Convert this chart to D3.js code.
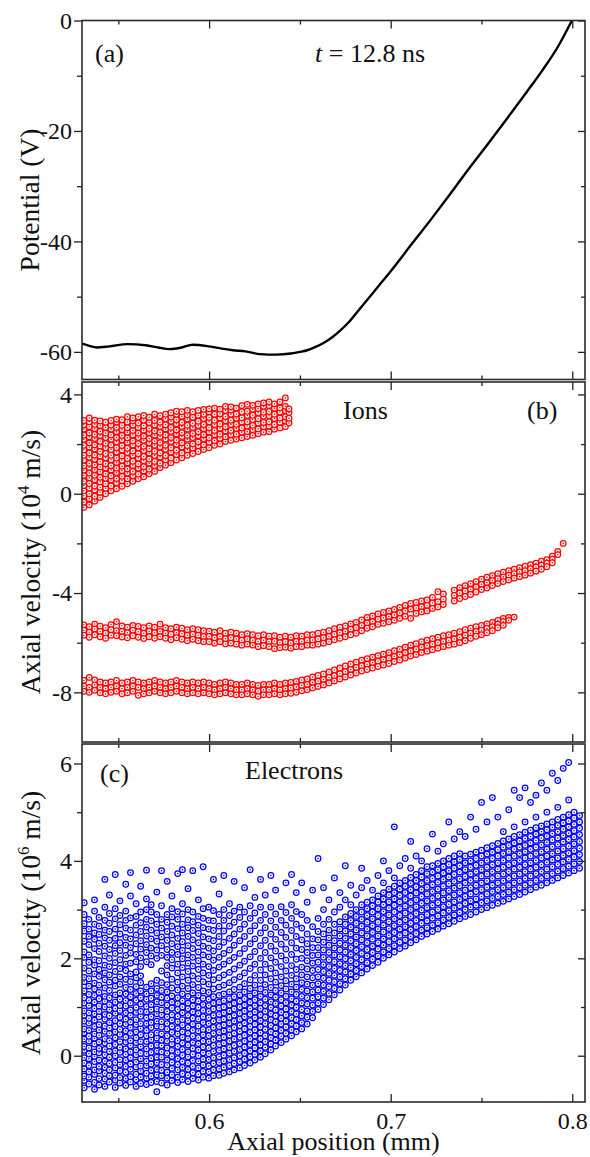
<!DOCTYPE html>
<html><head><meta charset="utf-8">
<script src="https://cdn.jsdelivr.net/npm/d3@7"></script>
<style>
body{margin:0;background:#fff}
svg{display:block}
text{font-family:"Liberation Serif","Times New Roman",serif;fill:#111}
</style>
</head><body>
<svg id="chart" width="590" height="1157" font-family="Liberation Serif, serif"></svg>
<script>
// ---------------- DATA ----------------
const xDomain=[0.53,0.807];
const xMajor=[0.6,0.7,0.8];
const xMinor=[0.55,0.65,0.75];

// (a) potential profile
const potX=[0.530,0.534,0.538,0.545,0.555,0.565,0.572,0.578,0.585,0.591,0.600,0.607,0.613,0.620,0.628,0.637,0.645,0.650,0.654,0.658,0.663,0.668,0.672,0.677,0.681,0.687,0.693,0.700,0.712,0.722,0.731,0.742,0.753,0.764,0.775,0.784,0.792,0.7998];
const potV=[-58.5,-58.9,-59.2,-59.0,-58.6,-58.8,-59.2,-59.5,-59.2,-58.7,-59.0,-59.4,-59.7,-59.9,-60.4,-60.5,-60.3,-60.0,-59.7,-59.2,-58.4,-57.3,-56.2,-54.6,-53.0,-50.6,-48.2,-45.4,-40.3,-36.1,-32.2,-27.3,-22.6,-17.8,-12.9,-8.8,-4.8,0];

// (b) ions: each row = [axial position, velocities...]
const ionCloud=[
[0.531,-0.55,-0.34,-0.08,0.12,0.33,0.5,0.74,0.95,1.13,1.36,1.55,1.77,1.95,2.19,2.36,2.6,2.78,2.95],
[0.534,-0.45,-0.2,0.0,0.23,0.41,0.64,0.83,1.06,1.22,1.47,1.64,1.88,2.05,2.29,2.45,2.7,2.9,3.05],
[0.537,-0.3,-0.1,0.15,0.31,0.56,0.74,0.97,1.16,1.39,1.56,1.8,1.97,2.22,2.39,2.62,2.8,2.96],
[0.540,-0.15,0.06,0.26,0.48,0.66,0.89,1.08,1.29,1.52,1.7,1.92,2.11,2.35,2.51,2.75,2.93],
[0.543,0.0,0.22,0.4,0.62,0.8,1.04,1.21,1.45,1.62,1.85,2.03,2.26,2.44,2.67,2.88],
[0.546,0.12,0.31,0.55,0.72,0.96,1.13,1.37,1.55,1.78,1.96,2.19,2.37,2.6,2.77,2.95],
[0.549,0.2,0.44,0.61,0.85,1.03,1.26,1.44,1.68,1.85,2.09,2.26,2.5,2.67,2.89,3.0],
[0.552,0.3,0.52,0.7,0.93,1.11,1.35,1.52,1.76,1.94,2.17,2.35,2.58,2.76,2.98],
[0.555,0.4,0.6,0.83,1.0,1.24,1.42,1.66,1.83,2.07,2.25,2.48,2.66,2.89,3.1],
[0.558,0.5,0.72,0.9,1.14,1.31,1.55,1.72,1.96,2.13,2.37,2.55,2.77,2.94,3.05],
[0.561,0.6,0.79,1.03,1.2,1.44,1.61,1.85,2.02,2.26,2.44,2.67,2.85,3.1],
[0.564,0.68,0.92,1.09,1.33,1.5,1.74,1.91,2.15,2.32,2.56,2.74,2.97,3.15],
[0.567,0.8,0.99,1.23,1.4,1.64,1.81,2.05,2.22,2.46,2.63,2.87,3.08],
[0.570,0.9,1.13,1.3,1.54,1.71,1.95,2.12,2.36,2.53,2.77,2.95,3.2],
[0.573,1.05,1.23,1.48,1.64,1.89,2.06,2.3,2.47,2.71,2.88,3.14],
[0.576,1.15,1.37,1.54,1.79,1.95,2.2,2.37,2.61,2.78,3.02,3.2],
[0.579,1.25,1.44,1.68,1.85,2.1,2.26,2.51,2.67,2.92,3.09,3.26],
[0.582,1.36,1.58,1.75,1.99,2.16,2.41,2.57,2.82,2.98,3.2,3.32],
[0.585,1.45,1.64,1.88,2.05,2.3,2.46,2.71,2.87,3.12,3.3],
[0.588,1.55,1.77,1.94,2.19,2.35,2.6,2.76,3.01,3.18,3.36],
[0.591,1.62,1.84,2.01,2.26,2.43,2.67,2.84,3.08,3.3],
[0.594,1.7,1.93,2.09,2.34,2.5,2.75,2.92,3.16,3.36],
[0.597,1.78,1.97,2.21,2.38,2.62,2.79,3.03,3.2,3.4],
[0.600,1.85,2.08,2.25,2.49,2.66,2.9,3.07,3.3,3.42],
[0.603,1.95,2.14,2.38,2.55,2.79,2.96,3.2,3.45],
[0.606,2.0,2.23,2.4,2.64,2.81,3.05,3.22,3.41],
[0.609,2.1,2.29,2.53,2.7,2.94,3.11,3.35,3.52],
[0.612,2.15,2.38,2.55,2.79,2.96,3.2,3.37,3.5],
[0.615,2.2,2.4,2.63,2.8,3.04,3.21,3.45],
[0.618,2.25,2.48,2.65,2.89,3.06,3.3,3.55],
[0.621,2.3,2.5,2.73,2.9,3.15,3.32,3.6],
[0.624,2.35,2.58,2.75,2.99,3.16,3.4,3.56],
[0.627,2.42,2.61,2.85,3.02,3.26,3.43,3.62],
[0.630,2.48,2.7,2.87,3.12,3.28,3.52,3.66],
[0.633,2.5,2.73,2.9,3.14,3.31,3.55,3.7],
[0.636,2.6,2.79,3.03,3.2,3.44,3.62],
[0.639,2.65,2.88,3.05,3.29,3.46,3.7],
[0.642,2.7,2.93,3.1,3.34,3.52,3.86],
[0.644,2.85,3.04,3.27,3.42]
];
const ionBeamA=[
[0.531,-5.28,-5.5,-5.7],[0.534,-5.36,-5.58,-5.78],[0.537,-5.25,-5.45,-5.68],[0.540,-5.33,-5.55,-5.76],[0.543,-5.4,-5.62,-5.82],[0.546,-5.27,-5.48,-5.7],[0.549,-5.15,-5.52,-5.72],[0.552,-5.32,-5.55,-5.77],[0.555,-5.38,-5.6,-5.8],[0.558,-5.3,-5.5,-5.72],[0.561,-5.34,-5.56,-5.78],[0.564,-5.4,-5.62,-5.83],[0.567,-5.32,-5.54,-5.76],[0.570,-5.38,-5.6,-5.82],[0.573,-5.25,-5.55,-5.76],[0.576,-5.4,-5.62,-5.82],[0.579,-5.44,-5.66,-5.88],[0.582,-5.38,-5.6,-5.8],[0.585,-5.42,-5.64,-5.86],[0.588,-5.48,-5.7,-5.92],[0.591,-5.44,-5.66,-5.86],[0.594,-5.48,-5.7,-5.92],[0.597,-5.52,-5.75,-5.96],[0.600,-5.54,-5.75,-5.96],[0.603,-5.58,-5.8,-6.02],[0.606,-5.52,-5.75,-5.96],[0.609,-5.62,-5.84,-6.05],[0.612,-5.58,-5.8,-6.02],[0.615,-5.62,-5.85,-6.06],[0.618,-5.68,-5.9,-6.1],[0.621,-5.64,-5.85,-6.06],[0.624,-5.68,-5.9,-6.1],[0.627,-5.72,-5.95,-6.16],[0.630,-5.68,-5.9,-6.12],[0.633,-5.74,-5.96,-6.16],[0.636,-5.72,-5.94,-6.24],[0.639,-5.78,-6.0,-6.2],[0.642,-5.74,-5.96,-6.18],[0.645,-5.78,-6.01,-6.22],[0.648,-5.72,-5.95,-6.16],[0.651,-5.74,-5.95,-6.16],[0.654,-5.68,-5.9,-6.1],[0.657,-5.68,-5.89,-6.1],[0.660,-5.62,-5.85,-6.06],[0.663,-5.58,-5.8,-6.02],[0.666,-5.52,-5.75,-5.96],[0.669,-5.44,-5.66,-5.88],[0.672,-5.38,-5.6,-5.82],[0.675,-5.32,-5.55,-5.76],[0.678,-5.24,-5.46,-5.68],[0.681,-5.18,-5.4,-5.62],[0.684,-5.08,-5.3,-5.52],[0.687,-4.98,-5.2,-5.42],[0.690,-4.92,-5.15,-5.36],[0.693,-4.84,-5.05,-5.26],[0.696,-4.78,-5.0,-5.22],[0.699,-4.72,-4.95,-5.16],[0.702,-4.66,-4.88,-5.1],[0.705,-4.58,-4.8,-5.02],[0.708,-4.5,-4.72,-4.94],[0.711,-4.42,-4.65,-5.02],[0.714,-4.38,-4.6,-4.82],[0.717,-4.32,-4.55,-4.76],[0.720,-4.28,-4.5,-4.72],[0.723,-4.18,-4.4,-4.62],[0.726,-3.95,-4.35,-4.56],[0.729,-4.04,-4.25,-4.46],[0.735,-3.88,-4.1,-4.32],[0.738,-3.78,-4.0,-4.22],[0.741,-3.7,-3.92,-4.14],[0.744,-3.62,-3.85,-4.06],[0.747,-3.54,-3.75,-3.96],[0.750,-3.44,-3.65,-3.86],[0.753,-3.36,-3.58,-3.8],[0.756,-3.3,-3.5,-3.7],[0.759,-3.22,-3.42,-3.62],[0.762,-3.16,-3.35,-3.54],[0.765,-3.1,-3.28,-3.48],[0.768,-3.04,-3.22,-3.4],[0.771,-2.98,-3.15,-3.34],[0.774,-2.92,-3.1,-3.28],[0.777,-2.86,-3.02,-3.2],[0.780,-2.8,-2.95,-3.12],[0.783,-2.72,-2.88,-3.04],[0.786,-2.66,-2.8,-2.94],[0.789,-2.52,-2.64,-2.78],[0.792,-2.32,-2.45],[0.795,-2.0]
];
const ionBeamB=[
[0.531,-7.52,-7.75,-7.96],[0.534,-7.4,-7.8,-8.0],[0.537,-7.5,-7.7,-7.92],[0.540,-7.58,-7.8,-8.02],[0.543,-7.62,-7.85,-8.06],[0.546,-7.58,-7.8,-8.0],[0.549,-7.52,-7.75,-7.96],[0.552,-7.62,-7.85,-8.06],[0.555,-7.58,-7.8,-8.02],[0.558,-7.52,-7.75,-7.96],[0.561,-7.58,-7.8,-8.12],[0.564,-7.62,-7.85,-8.06],[0.567,-7.58,-7.8,-8.02],[0.570,-7.52,-7.75,-7.96],[0.573,-7.58,-7.8,-8.02],[0.576,-7.62,-7.85,-8.06],[0.579,-7.58,-7.8,-8.02],[0.582,-7.52,-7.75,-7.96],[0.585,-7.58,-7.8,-8.02],[0.588,-7.62,-7.85,-8.06],[0.591,-7.58,-7.8,-8.02],[0.594,-7.62,-7.85,-8.06],[0.597,-7.58,-7.8,-8.02],[0.600,-7.62,-7.85,-8.06],[0.603,-7.68,-7.9,-8.1],[0.606,-7.62,-7.85,-8.06],[0.609,-7.58,-7.8,-8.02],[0.612,-7.62,-7.85,-8.06],[0.615,-7.68,-7.9,-8.1],[0.618,-7.68,-7.9,-8.1],[0.621,-7.62,-7.85,-8.06],[0.624,-7.68,-7.9,-8.1],[0.627,-7.72,-7.95,-8.16],[0.630,-7.68,-7.9,-8.1],[0.633,-7.68,-7.9,-8.1],[0.636,-7.62,-7.85,-8.06],[0.639,-7.68,-7.9,-8.1],[0.642,-7.62,-7.85,-8.06],[0.645,-7.6,-7.82,-8.04],[0.648,-7.56,-7.78,-8.0],[0.651,-7.5,-7.72,-7.94],[0.654,-7.46,-7.68,-7.9],[0.657,-7.38,-7.6,-7.82],[0.660,-7.32,-7.55,-7.76],[0.663,-7.26,-7.48,-7.7],[0.666,-7.18,-7.4,-7.62],[0.669,-7.1,-7.33,-7.54],[0.672,-7.02,-7.25,-7.46],[0.675,-6.94,-7.17,-7.38],[0.678,-6.86,-7.08,-7.3],[0.681,-6.78,-7.0,-7.22],[0.684,-6.7,-6.93,-7.14],[0.687,-6.64,-6.87,-7.08],[0.690,-6.58,-6.8,-7.02],[0.693,-6.52,-6.74,-6.96],[0.696,-6.46,-6.68,-6.9],[0.699,-6.4,-6.62,-6.84],[0.702,-6.32,-6.55,-6.76],[0.705,-6.26,-6.48,-6.7],[0.708,-6.18,-6.4,-6.62],[0.711,-6.1,-6.33,-6.54],[0.714,-6.04,-6.26,-6.48],[0.717,-5.96,-6.18,-6.4],[0.720,-5.9,-6.12,-6.34],[0.723,-5.84,-6.06,-6.28],[0.726,-5.78,-6.0,-6.22],[0.729,-5.72,-5.95,-6.16],[0.732,-5.68,-5.9,-6.1],[0.735,-5.62,-5.85,-6.06],[0.738,-5.56,-5.78,-6.0],[0.741,-5.48,-5.7,-5.92],[0.744,-5.42,-5.62,-5.82],[0.747,-5.36,-5.55,-5.74],[0.750,-5.3,-5.5,-5.68],[0.753,-5.24,-5.43,-5.6],[0.756,-5.18,-5.36,-5.52],[0.759,-5.1,-5.25,-5.4],[0.762,-5.02,-5.15,-5.3],[0.765,-4.98,-5.1],[0.768,-4.97]
];

// (c) electrons: each row = [axial position, velocities...]
const electrons=[
[0.5312,-0.66,-0.51,-0.42,-0.27,-0.15,-0.04,0.11,0.19,0.34,0.47,0.55,0.71,0.83,0.92,1.08,1.19,1.33,1.52,1.61,1.8,2.02,2.13,2.35,2.56,2.71,2.9,3.14],
[0.5338,-0.58,-0.44,-0.33,-0.2,-0.06,0.04,0.16,0.3,0.4,0.52,0.67,0.77,0.88,1.03,1.14,1.26,1.43,1.58,1.74,1.92,2.07,2.28,2.45,2.6,2.8],
[0.5369,-0.69,-0.55,-0.38,-0.29,-0.12,-0.01,0.08,0.24,0.36,0.45,0.6,0.73,0.86,0.97,1.1,1.24,1.37,1.49,1.68,1.86,1.97,2.2,2.39,2.52,2.7,2.97,3.2],
[0.5394,-0.6,-0.47,-0.31,-0.22,-0.09,0.06,0.15,0.28,0.42,0.53,0.64,0.8,0.91,1.02,1.17,1.3,1.45,1.63,1.77,1.95,2.14,2.31,2.49,2.66,2.84],
[0.5426,-0.63,-0.48,-0.36,-0.24,-0.11,0.02,0.13,0.26,0.35,0.5,0.61,0.75,0.85,1.0,1.12,1.22,1.39,1.56,1.7,1.86,2.05,2.25,2.42,2.58,2.78,3.05,3.62],
[0.5451,-0.54,-0.41,-0.29,-0.16,-0.03,0.09,0.2,0.31,0.46,0.57,0.68,0.82,0.95,1.05,1.19,1.34,1.51,1.66,1.83,2.0,2.18,2.37,2.55,2.72,2.92,3.3],
[0.5483,-0.65,-0.5,-0.4,-0.25,-0.14,0.0,0.1,0.23,0.37,0.49,0.6,0.72,0.87,0.97,1.1,1.25,1.43,1.55,1.73,1.91,2.1,2.26,2.41,2.6,2.81,3.02,3.72],
[0.5509,-0.56,-0.45,-0.31,-0.18,-0.08,0.07,0.17,0.29,0.44,0.54,0.66,0.79,0.93,1.03,1.16,1.29,1.47,1.62,1.79,1.97,2.16,2.32,2.5,2.69,2.88,3.18],
[0.5541,-0.61,-0.47,-0.34,-0.22,-0.09,0.03,0.14,0.28,0.38,0.51,0.65,0.75,0.88,1.02,1.13,1.27,1.4,1.57,1.75,1.88,2.06,2.27,2.43,2.62,2.78,2.97,3.52],
[0.5567,-0.54,-0.43,-0.28,-0.17,-0.04,0.08,0.21,0.31,0.46,0.58,0.69,0.83,0.94,1.08,1.21,1.36,1.52,1.68,1.9,2.11,2.22,2.4,2.58,2.83,3.28,3.76],
[0.5598,-0.63,-0.49,-0.38,-0.23,-0.13,0.02,0.12,0.27,0.37,0.49,0.64,0.74,0.89,0.99,1.14,1.28,1.42,1.6,1.72,1.93,2.08,2.3,2.48,2.68,2.86,3.12],
[0.5623,-0.57,-0.44,-0.31,-0.21,-0.06,0.05,0.19,0.29,0.43,0.56,0.66,0.81,0.91,1.06,1.19,1.33,1.5,1.64,1.83,2.01,2.19,2.36,2.55,2.73,2.95,3.48],
[0.5655,-0.59,-0.46,-0.36,-0.2,-0.11,0.04,0.14,0.29,0.41,0.52,0.66,0.78,0.9,1.01,1.16,1.27,1.41,1.93,2.12,2.28,2.46,2.64,2.8,3.0,3.22,3.81],
[0.5681,-0.55,-0.42,-0.3,-0.17,-0.05,0.07,0.2,0.33,0.43,0.58,0.68,0.8,0.95,1.05,1.18,1.33,1.48,1.87,2.05,2.21,2.4,2.58,2.77,2.95,3.1],
[0.5712,-0.74,-0.53,-0.39,-0.28,-0.14,-0.03,0.1,0.22,0.36,0.47,0.61,0.71,0.86,0.96,1.11,1.24,1.38,1.55,2.0,2.17,2.35,2.52,2.7,2.9,3.36],
[0.5738,-0.56,-0.41,-0.3,-0.18,-0.03,0.08,0.21,0.32,0.45,0.59,0.7,0.84,0.94,1.09,1.2,1.34,1.5,1.74,2.06,2.26,2.44,2.62,2.8,3.08,3.8],
[0.5769,-0.6,-0.46,-0.34,-0.19,-0.09,0.05,0.16,0.3,0.41,0.55,0.66,0.8,0.91,1.04,1.18,1.31,1.46,1.66,1.85,2.02,2.18,2.37,2.55,2.74,2.9,3.58],
[0.5795,-0.51,-0.39,-0.26,-0.14,-0.01,0.11,0.24,0.34,0.48,0.6,0.73,0.84,0.98,1.1,1.23,1.39,1.57,1.8,1.97,2.12,2.3,2.48,2.66,2.85,3.02,3.28],
[0.5827,-0.55,-0.44,-0.29,-0.18,-0.06,0.07,0.19,0.31,0.45,0.56,0.7,0.81,0.95,1.07,1.19,1.35,1.51,1.7,1.88,2.08,2.24,2.41,2.61,2.8,2.96,3.74],
[0.5853,-0.49,-0.37,-0.24,-0.12,0.01,0.13,0.26,0.38,0.49,0.63,0.74,0.88,1.0,1.13,1.27,1.43,1.62,1.81,1.99,2.16,2.34,2.52,2.7,2.91,3.12,3.82],
[0.5884,-0.53,-0.4,-0.28,-0.15,-0.02,0.08,0.22,0.35,0.46,0.58,0.72,0.83,0.97,1.08,1.22,1.38,1.55,1.73,1.9,2.07,2.26,2.45,2.63,2.79,3.0,3.43],
[0.5910,-0.47,-0.35,-0.22,-0.1,0.03,0.15,0.27,0.4,0.52,0.65,0.77,0.9,1.02,1.15,1.29,1.46,1.64,1.84,2.02,2.2,2.38,2.57,2.75,2.95,3.8],
[0.5941,-0.5,-0.38,-0.25,-0.11,0.0,0.12,0.25,0.37,0.51,0.61,0.75,0.87,0.99,1.12,1.24,1.4,1.58,1.77,1.95,2.13,2.32,2.51,2.68,2.86,3.2],
[0.5967,-0.44,-0.32,-0.19,-0.07,0.06,0.18,0.3,0.43,0.54,0.68,0.8,0.93,1.05,1.18,1.33,1.52,1.7,1.88,2.07,2.25,2.44,2.63,2.82,3.02,3.88],
[0.5998,-0.46,-0.33,-0.21,-0.08,0.04,0.16,0.29,0.41,0.53,0.66,0.78,0.91,1.03,1.16,1.3,1.47,1.65,1.83,2.03,2.21,2.4,2.6,2.78,3.05],
[0.6024,-0.41,-0.29,-0.16,-0.04,0.09,0.21,0.33,0.46,0.58,0.71,0.83,0.96,1.08,1.21,1.37,1.56,1.75,1.96,2.15,2.36,2.57,2.77,2.98,3.62],
[0.6055,-0.4,-0.27,-0.14,-0.02,0.11,0.23,0.36,0.48,0.6,0.73,0.85,0.98,1.1,1.24,1.41,1.6,1.82,2.02,2.24,2.45,2.66,2.9,3.32],
[0.6081,-0.36,-0.24,-0.11,0.01,0.14,0.26,0.38,0.51,0.63,0.75,0.88,1.0,1.13,1.27,1.45,1.66,1.88,2.1,2.33,2.56,2.78,3.0,3.7],
[0.6112,-0.33,-0.2,-0.08,0.05,0.17,0.3,0.42,0.54,0.67,0.79,0.92,1.04,1.17,1.31,1.5,1.71,1.95,2.17,2.41,2.66,2.88,3.12],
[0.6138,-0.29,-0.16,-0.04,0.09,0.21,0.34,0.46,0.58,0.71,0.83,0.96,1.08,1.21,1.36,1.56,1.78,2.02,2.27,2.5,2.74,2.97,3.58],
[0.6169,-0.25,-0.12,0.0,0.13,0.25,0.38,0.5,0.62,0.75,0.87,1.0,1.12,1.25,1.41,1.62,1.86,2.1,2.36,2.6,2.84,3.05],
[0.6195,-0.2,-0.07,0.05,0.18,0.3,0.42,0.55,0.67,0.8,0.92,1.04,1.17,1.31,1.48,1.7,1.94,2.2,2.45,2.7,2.95,3.45],
[0.6226,-0.15,-0.02,0.1,0.23,0.35,0.48,0.6,0.72,0.85,0.97,1.1,1.23,1.38,1.56,1.79,2.03,2.3,2.56,2.82,3.08,3.82],
[0.6252,-0.09,0.03,0.16,0.28,0.41,0.53,0.65,0.78,0.9,1.03,1.15,1.29,1.45,1.65,1.88,2.14,2.4,2.67,2.93,3.25],
[0.6283,-0.03,0.1,0.22,0.35,0.47,0.59,0.72,0.84,0.97,1.09,1.22,1.37,1.55,1.76,2.0,2.26,2.52,2.78,3.05,3.62],
[0.6309,0.04,0.17,0.29,0.41,0.54,0.66,0.79,0.91,1.03,1.16,1.3,1.46,1.66,1.88,2.12,2.37,2.63,2.9,3.3],
[0.6340,0.12,0.24,0.37,0.49,0.62,0.74,0.86,0.99,1.11,1.25,1.4,1.58,1.79,2.01,2.25,2.5,2.77,3.05,3.7],
[0.6366,0.2,0.32,0.45,0.57,0.7,0.82,0.94,1.07,1.2,1.34,1.51,1.7,1.92,2.15,2.39,2.64,2.91,3.4],
[0.6397,0.27,0.4,0.52,0.65,0.77,0.89,1.02,1.15,1.29,1.44,1.62,1.83,2.05,2.29,2.53,2.78,3.06],
[0.6423,0.34,0.46,0.59,0.71,0.84,0.96,1.09,1.22,1.37,1.54,1.74,1.96,2.19,2.43,2.68,2.94,3.55],
[0.6454,0.41,0.53,0.66,0.78,0.91,1.04,1.17,1.31,1.47,1.65,1.85,2.08,2.32,2.57,2.82,3.1,3.72],
[0.6480,0.49,0.61,0.74,0.86,0.99,1.12,1.26,1.41,1.58,1.77,1.98,2.21,2.45,2.7,2.96,3.35],
[0.651,0.55,0.68,0.82,0.95,1.08,1.22,1.36,1.5,1.66,1.82,2.0,2.18,2.38,2.62,2.9,3.55],
[0.654,0.65,0.79,0.92,1.06,1.19,1.33,1.47,1.62,1.78,1.95,2.12,2.3,2.5,2.78,3.15],
[0.657,0.78,0.91,1.04,1.18,1.31,1.45,1.6,1.75,1.9,2.06,2.22,2.4,2.65,3.4],
[0.660,0.95,1.08,1.21,1.35,1.48,1.62,1.77,1.92,2.07,2.22,2.38,2.55,2.82,4.05],
[0.663,1.05,1.18,1.32,1.45,1.59,1.73,1.87,2.02,2.17,2.33,2.5,2.7,3.0,3.45],
[0.666,1.15,1.28,1.42,1.55,1.69,1.83,1.97,2.12,2.27,2.42,2.58,2.8,3.2],
[0.669,1.25,1.38,1.52,1.65,1.79,1.93,2.07,2.21,2.36,2.52,2.7,2.95,3.65],
[0.672,1.35,1.48,1.62,1.75,1.89,2.03,2.17,2.31,2.46,2.6,2.75,3.05,3.35],
[0.675,1.45,1.58,1.72,1.85,1.99,2.13,2.27,2.41,2.56,2.7,2.85,3.2,3.9],
[0.678,1.55,1.68,1.81,1.95,2.08,2.22,2.36,2.5,2.64,2.78,2.92,3.1,3.5],
[0.681,1.62,1.75,1.89,2.02,2.16,2.3,2.44,2.58,2.72,2.86,3.0,3.3],
[0.684,1.7,1.83,1.97,2.1,2.24,2.38,2.52,2.66,2.8,2.95,3.1,3.45,3.85],
[0.687,1.78,1.91,2.05,2.18,2.32,2.46,2.6,2.74,2.88,3.02,3.15,3.6],
[0.690,1.85,1.98,2.12,2.25,2.39,2.53,2.67,2.81,2.95,3.08,3.2,3.4],
[0.693,1.92,2.05,2.19,2.32,2.46,2.6,2.74,2.88,3.02,3.15,3.28,3.7],
[0.696,2.0,2.13,2.27,2.4,2.54,2.68,2.82,2.96,3.1,3.22,3.35,3.55,4.0],
[0.699,2.07,2.2,2.34,2.47,2.61,2.75,2.89,3.03,3.16,3.3,3.42,3.8],
[0.702,2.13,2.26,2.4,2.53,2.67,2.81,2.95,3.09,3.22,3.35,3.48,3.65,4.7],
[0.705,2.2,2.33,2.47,2.6,2.74,2.88,3.02,3.16,3.29,3.42,3.55,3.9],
[0.708,2.25,2.38,2.52,2.65,2.79,2.93,3.07,3.21,3.35,3.48,3.6,4.05],
[0.711,2.32,2.45,2.59,2.72,2.86,3.0,3.14,3.28,3.41,3.54,3.66,3.85,4.4],
[0.714,2.38,2.51,2.65,2.78,2.92,3.06,3.2,3.34,3.47,3.6,3.72,4.1],
[0.717,2.45,2.58,2.72,2.85,2.99,3.13,3.27,3.41,3.54,3.67,3.8,4.0],
[0.720,2.5,2.63,2.77,2.9,3.04,3.18,3.32,3.46,3.6,3.74,3.88,4.25],
[0.723,2.55,2.68,2.82,2.95,3.09,3.23,3.37,3.51,3.64,3.77,3.9,4.55],
[0.726,2.6,2.73,2.87,3.0,3.14,3.28,3.42,3.56,3.69,3.82,3.95,4.2],
[0.729,2.66,2.79,2.93,3.06,3.2,3.34,3.48,3.62,3.75,3.88,4.0,4.35],
[0.732,2.71,2.84,2.98,3.11,3.25,3.39,3.53,3.67,3.8,3.93,4.05,4.8],
[0.735,2.76,2.89,3.03,3.16,3.3,3.44,3.58,3.72,3.85,3.98,4.1,4.45],
[0.738,2.81,2.94,3.08,3.21,3.35,3.49,3.63,3.77,3.9,4.03,4.15,4.6],
[0.741,2.86,3.0,3.13,3.27,3.4,3.55,3.68,3.82,3.96,4.1,4.5],
[0.744,2.9,3.05,3.18,3.32,3.45,3.6,3.73,3.87,4.0,4.14,4.9],
[0.747,2.95,3.09,3.22,3.37,3.5,3.64,3.78,3.91,4.05,4.18,4.65],
[0.750,3.0,3.14,3.27,3.41,3.55,3.69,3.82,3.96,4.1,4.22,5.2],
[0.753,3.04,3.18,3.32,3.46,3.59,3.73,3.87,4.01,4.14,4.27,4.8],
[0.756,3.09,3.23,3.37,3.5,3.64,3.78,3.92,4.05,4.18,4.31,5.3],
[0.759,3.13,3.27,3.41,3.55,3.69,3.83,3.96,4.1,4.23,4.36,4.9],
[0.762,3.17,3.31,3.45,3.59,3.73,3.87,4.01,4.15,4.28,4.41,4.6],
[0.765,3.22,3.36,3.5,3.64,3.78,3.92,4.06,4.19,4.32,4.45,5.05],
[0.768,3.27,3.41,3.55,3.69,3.83,3.96,4.1,4.24,4.37,4.5,4.7,5.45],
[0.771,3.31,3.45,3.59,3.73,3.87,4.01,4.15,4.28,4.41,4.54,5.3],
[0.774,3.36,3.5,3.64,3.78,3.92,4.06,4.19,4.32,4.46,4.59,4.8,5.5],
[0.777,3.41,3.55,3.69,3.83,3.96,4.1,4.24,4.37,4.5,4.63,5.2],
[0.780,3.46,3.6,3.74,3.87,4.01,4.15,4.28,4.42,4.55,4.68,4.9,5.35],
[0.783,3.5,3.64,3.78,3.92,4.06,4.19,4.33,4.47,4.6,4.72,5.6],
[0.786,3.55,3.69,3.83,3.97,4.1,4.24,4.38,4.51,4.64,4.76,5.0,5.45],
[0.789,3.6,3.74,3.88,4.02,4.15,4.29,4.43,4.56,4.69,4.8,5.8],
[0.792,3.65,3.79,3.93,4.06,4.2,4.34,4.47,4.6,4.73,4.85,5.1,5.65],
[0.795,3.7,3.84,3.98,4.11,4.25,4.39,4.52,4.65,4.78,4.9,5.9],
[0.798,3.75,3.89,4.03,4.16,4.3,4.44,4.57,4.7,4.82,4.95,5.25,6.02],
[0.801,3.8,3.94,4.08,4.21,4.35,4.49,4.62,4.75,4.88,5.0],
[0.804,3.85,3.99,4.13,4.26,4.4,4.54,4.67,4.8,4.93]
];

// ---------------- LAYOUT ----------------
const L=82,R=585;
const svg=d3.select('#chart');
const x=d3.scaleLinear().domain(xDomain).range([L,R]);
const panels=[
 {id:'a',top:20.5,bottom:379.5,domain:[-65,0],major:[0,-20,-40,-60],minor:[-10,-30,-50]},
 {id:'b',top:382,bottom:742,domain:[-10,4.5],major:[4,0,-4,-8],minor:[2,-2,-6]},
 {id:'c',top:744,bottom:1102,domain:[-0.95,6.4],major:[6,4,2,0],minor:[5,3,1]}
];
panels.forEach(p=>{p.y=d3.scaleLinear().domain(p.domain).range([p.bottom,p.top]);});

const flat=rows=>rows.flatMap(r=>r.slice(1).map(v=>[r[0],v]));

const defs=svg.append('defs');
panels.forEach(p=>{
  defs.append('clipPath').attr('id','clip'+p.id).append('rect')
    .attr('x',L).attr('y',p.top).attr('width',R-L).attr('height',p.bottom-p.top);
});

function drawAxes(p,showBottomLabels){
  const g=svg.append('g').attr('class','axes');
  const fmt=d=>String(d);
  g.append('g').attr('transform',`translate(${L},0)`)
    .call(d3.axisLeft(p.y).tickValues(p.major).tickSize(8).tickPadding(2).tickFormat(fmt));
  g.append('g').attr('transform',`translate(${L},0)`)
    .call(d3.axisLeft(p.y).tickValues(p.minor).tickSize(5).tickFormat(''));
  g.append('g').attr('transform',`translate(${R},0)`)
    .call(d3.axisRight(p.y).tickValues(p.major).tickSize(-7).tickFormat(''));
  g.append('g').attr('transform',`translate(${R},0)`)
    .call(d3.axisRight(p.y).tickValues(p.minor).tickSize(-4).tickFormat(''));
  g.append('g').attr('transform',`translate(0,${p.top})`)
    .call(d3.axisTop(x).tickValues(xMajor).tickSize(-8).tickFormat(''));
  g.append('g').attr('transform',`translate(0,${p.top})`)
    .call(d3.axisTop(x).tickValues(xMinor).tickSize(-4).tickFormat(''));
  g.append('g').attr('transform',`translate(0,${p.bottom})`)
    .call(d3.axisBottom(x).tickValues(xMajor).tickSize(-8).tickPadding(10)
      .tickFormat(showBottomLabels?d3.format('.1f'):''));
  g.append('g').attr('transform',`translate(0,${p.bottom})`)
    .call(d3.axisBottom(x).tickValues(xMinor).tickSize(-4).tickFormat(''));
  g.selectAll('.domain').remove();
  g.selectAll('.tick line').attr('stroke','#222').attr('stroke-width',1.3);
  g.selectAll('.tick text').attr('font-size',24).attr('font-family','Liberation Serif, serif').attr('fill','#111');
  svg.append('rect').attr('x',L).attr('y',p.top).attr('width',R-L).attr('height',p.bottom-p.top)
    .attr('fill','none').attr('stroke','#2a2a2a').attr('stroke-width',1.6);
}

function scatter(p,pts,color){
  const g=svg.append('g').attr('clip-path',`url(#clip${p.id})`);
  const m=g.selectAll('g.m').data(pts).join('g').attr('class','m')
    .attr('transform',d=>`translate(${x(d[0])},${p.y(d[1])})`);
  m.append('circle').attr('r',2.8).attr('fill','#fff').attr('stroke',color).attr('stroke-width',1.25);
  m.append('circle').attr('r',0.8).attr('fill',color);
}

// panel (a)
const pa=panels[0];
svg.append('path').datum(potX.map((d,i)=>[d,potV[i]]))
  .attr('clip-path','url(#clipa)')
  .attr('fill','none').attr('stroke','#000').attr('stroke-width',2.4)
  .attr('d',d3.line().x(d=>x(d[0])).y(d=>pa.y(d[1])).curve(d3.curveMonotoneX));
drawAxes(pa,false);

// panel (b)
const pb=panels[1];
scatter(pb,[...flat(ionBeamB),...flat(ionBeamA),...flat(ionCloud)],'#ff0000');
drawAxes(pb,false);

// panel (c)
const pc=panels[2];
scatter(pc,flat(electrons),'#0000ff');
drawAxes(pc,true);

// texts
const FF='Liberation Serif, serif';
const T=(xx,yy,s,fs)=>svg.append('text').attr('x',xx).attr('y',yy).attr('font-size',fs)
  .attr('font-family',FF).text(s);
T(95,62,'(a)',26);
const tt=svg.append('text').attr('x',315).attr('y',62).attr('font-size',26).attr('font-family',FF);
tt.append('tspan').attr('font-style','italic').text('t');
tt.append('tspan').text(' = 12.8 ns');
T(343,419,'Ions',26);
T(527,419,'(b)',26);
T(100,782,'(c)',26);
T(245,779,'Electrons',26);

svg.append('text').attr('transform',`translate(39,${(pa.top+pa.bottom)/2}) rotate(-90)`)
  .attr('text-anchor','middle').attr('font-size',27.5).attr('font-family',FF).text('Potential (V)');
function velTitle(p,exp){
  const t=svg.append('text').attr('transform',`translate(40,${(p.top+p.bottom)/2}) rotate(-90)`)
    .attr('text-anchor','middle').attr('font-size',27.5).attr('font-family',FF);
  t.append('tspan').text('Axial velocity (10');
  t.append('tspan').attr('font-size',17).attr('dy',-11).text(exp);
  t.append('tspan').attr('dy',11).text(' m/s)');
}
velTitle(pb,'4');
velTitle(pc,'6');
svg.append('text').attr('x',(L+R)/2).attr('y',1150).attr('text-anchor','middle')
  .attr('font-size',26).attr('font-family',FF).text('Axial position (mm)');
</script>
</body></html>
